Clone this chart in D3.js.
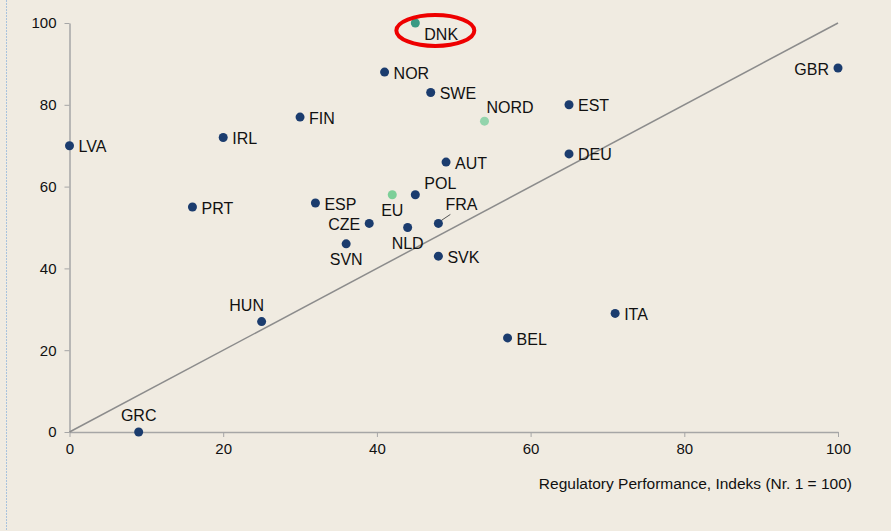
<!DOCTYPE html>
<html>
<head>
<meta charset="utf-8">
<script src="https://cdn.jsdelivr.net/npm/d3@7"></script>
<style>
  body { margin: 0; background: #f0ebe1; }
  svg { display: block; font-family: "Liberation Sans", Arial, sans-serif; }
</style>
</head>
<body>
<div id="chart"></div>
<script>
// data
const countries = ["DNK","NOR","SWE","NORD","EST","GBR","FIN","IRL","LVA","AUT","DEU","POL","EU","ESP","PRT","CZE","FRA","NLD","SVN","SVK","HUN","ITA","BEL","GRC"];
const regPerf   = [45, 41, 47, 54, 65, 100, 30, 20, 0, 49, 65, 45, 42, 32, 16, 39, 48, 44, 36, 48, 25, 71, 57, 9];
const yIndex    = [100, 88, 83, 76, 80, 89, 77, 72, 70, 66, 68, 58, 58, 56, 55, 51, 51, 50, 46, 43, 27, 29, 23, 0];
const groups    = ["dnk","c","c","nord","c","c","c","c","c","c","c","c","eu","c","c","c","c","c","c","c","c","c","c","c"];
const ticks = [0, 20, 40, 60, 80, 100];

// label placement (default: right of dot)
const labelPos = {
  DNK: "br", NORD: "tr2", GBR: "l", HUN: "tl", GRC: "t", SVN: "b", NLD: "b",
  CZE: "l", EU: "b", POL: "tr", FRA: "fra"
};
const colors = { c: "#1b3c6e", dnk: "#3a9a84", nord: "#93d4ac", eu: "#7ccf98" };

const W = 891, H = 531;
const margin = {top: 23, right: 53, bottom: 99, left: 69.5};

const svg = d3.select("#chart").append("svg")
  .attr("width", W).attr("height", H);

svg.append("rect").attr("width", W).attr("height", H).attr("fill", "#f0ebe1");

// dotted frame line on the left
svg.append("line")
  .attr("x1", 6.5).attr("x2", 6.5).attr("y1", 0).attr("y2", H)
  .attr("stroke", "#a9c3dd").attr("stroke-width", 1).attr("stroke-dasharray", "2,1");

const x = d3.scaleLinear().domain([0, 100]).range([margin.left, W - margin.right]);
const y = d3.scaleLinear().domain([0, 100]).range([H - margin.bottom, margin.top]);

const xAxis = svg.append("g")
  .attr("transform", "translate(0," + y(0) + ")")
  .call(d3.axisBottom(x).tickValues(ticks).tickSize(5).tickPadding(6).tickSizeOuter(0));
const yAxis = svg.append("g")
  .attr("transform", "translate(" + x(0) + ",0)")
  .call(d3.axisLeft(y).tickValues(ticks).tickSize(5).tickPadding(8).tickSizeOuter(0));

[xAxis, yAxis].forEach(a => {
  a.select(".domain").attr("stroke", "#a6a6a6").attr("stroke-width", 1.5);
  a.selectAll(".tick line").attr("stroke", "#a6a6a6");
  a.selectAll("text").attr("fill", "#111").style("font-size", "15px")
    .style("font-family", "'Liberation Sans', Arial, sans-serif");
});

// 45 degree line
svg.append("line")
  .attr("x1", x(0)).attr("y1", y(0)).attr("x2", x(100)).attr("y2", y(100))
  .attr("stroke", "#8c8c8c").attr("stroke-width", 1.5);

svg.append("text")
  .attr("x", 852).attr("y", 489)
  .attr("text-anchor", "end")
  .attr("fill", "#111").style("font-size", "15.5px")
  .text("Regulatory Performance, Indeks (Nr. 1 = 100)");

const pts = countries.map((c, i) => ({name: c, x: regPerf[i], y: yIndex[i], g: groups[i]}));

// FRA leader line
const fra = pts.find(d => d.name === "FRA");
svg.append("line")
  .attr("x1", x(fra.x) + 3).attr("y1", y(fra.y) - 3)
  .attr("x2", x(fra.x) + 12).attr("y2", y(fra.y) - 9)
  .attr("stroke", "#555").attr("stroke-width", 1);

svg.selectAll("circle.pt").data(pts).enter().append("circle")
  .attr("class", "pt")
  .attr("cx", d => x(d.x)).attr("cy", d => y(d.y))
  .attr("r", 4.5)
  .attr("fill", d => colors[d.g]);

const offsets = {
  r:   [9, 1, "start"],
  l:   [-9, 1, "end"],
  br:  [9, 11, "start"],
  tr:  [9, -11, "start"],
  tr2: [2, -14, "start"],
  tl:  [-15, -16, "middle"],
  t:   [0, -17, "middle"],
  b:   [0, 16, "middle"],
  fra: [7, -19, "start"]
};

svg.selectAll("text.lbl").data(pts).enter().append("text")
  .attr("class", "lbl")
  .each(function(d) {
    const o = offsets[labelPos[d.name] || "r"];
    d3.select(this)
      .attr("x", x(d.x) + o[0]).attr("y", y(d.y) + o[1])
      .attr("text-anchor", o[2]);
  })
  .attr("dy", "0.35em")
  .attr("fill", "#111").style("font-size", "16px")
  .text(d => d.name);

// red highlight ellipse around DNK
const dnk = pts.find(d => d.name === "DNK");
svg.append("ellipse")
  .attr("cx", x(dnk.x) + 20).attr("cy", y(dnk.y) + 7.5)
  .attr("rx", 39).attr("ry", 15.5)
  .attr("fill", "none").attr("stroke", "#ee0000").attr("stroke-width", 4);
</script>
</body>
</html>
